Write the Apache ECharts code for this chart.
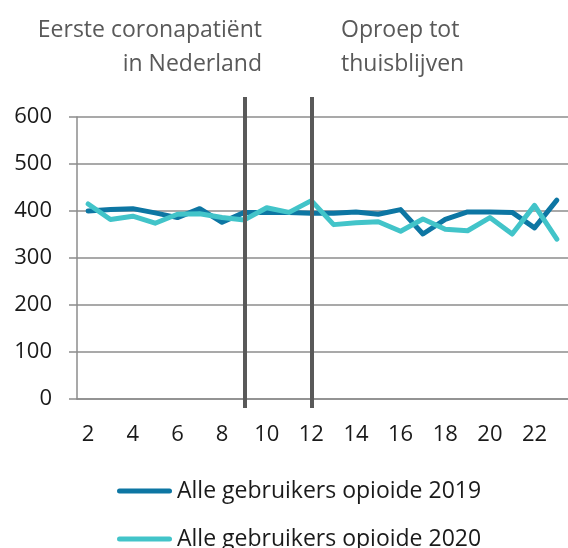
<!DOCTYPE html>
<html>
<head>
<meta charset="utf-8">
<script src="https://cdn.jsdelivr.net/npm/echarts@6/dist/echarts.min.js"></script>
<style>
    html, body { margin: 0; padding: 0; background: #ffffff; }
    #chart { width: 568px; height: 548px; }
</style>
</head>
<body>
<div id="chart"></div>
<script>
    // week numbers
    const weeks = ['2', '3', '4', '5', '6', '7', '8', '9', '10', '11', '12', '13',
        '14', '15', '16', '17', '18', '19', '20', '21', '22', '23'];
    const users2019 = [400, 403, 405, 396, 386, 405, 376, 397, 397, 397, 395, 395,
        398, 393, 403, 351, 382, 398, 398, 397, 364, 423];
    const users2020 = [415, 382, 389, 374, 393, 394, 386, 381, 407, 397, 422, 371,
        375, 377, 357, 383, 361, 358, 386, 351, 412, 340];
    const eventWeeks = ['9', '12'];
    const yTicks = [0, 100, 200, 300, 400, 500, 600];

    const font = '"Open Sans", sans-serif';
    const chart = echarts.init(document.getElementById('chart'));

    const option = {
        animation: false,
        textStyle: { fontFamily: font },
        grid: [
            { left: 77, right: -2, top: 117, bottom: 149 },
            // grid for the event lines, a bit taller than the plot
            { left: 77, right: -2, top: 97, bottom: 140 }
        ],
        legend: {
            orient: 'vertical',
            left: 117,
            top: 476,
            height: 120,
            padding: 0,
            itemWidth: 55,
            itemHeight: 5,
            itemGap: 18,
            icon: 'path://M2.5,0 L52.5,0 A2.5,2.5 0 0 1 52.5,5 L2.5,5 A2.5,2.5 0 0 1 2.5,0 Z',
            data: ['Alle gebruikers opioide 2019', 'Alle gebruikers opioide 2020'],
            textStyle: {
                fontFamily: font,
                fontSize: 23,
                lineHeight: 30,
                color: '#1a1a1a'
            }
        },
        graphic: [
            {
                type: 'text', right: 568 - 262, top: 13,
                style: {
                    text: 'Eerste coronapatiënt\nin Nederland',
                    textAlign: 'right', align: 'right', lineHeight: 34,
                    font: '23px "Open Sans"', fill: '#595959'
                }
            },
            {
                type: 'text', left: 341, top: 13,
                style: {
                    text: 'Oproep tot\nthuisblijven',
                    textAlign: 'left', lineHeight: 34,
                    font: '23px "Open Sans"', fill: '#595959'
                }
            }
        ],
        xAxis: [
            {
                type: 'category',
                data: weeks,
                gridIndex: 0,
                boundaryGap: true,
                axisLine: { lineStyle: { color: '#8c8c8c', width: 1.5 } },
                axisTick: { interval: 0, length: 8, lineStyle: { color: '#8c8c8c', width: 1.5 } },
                axisLabel: {
                    interval: 1,
                    margin: 25,
                    fontSize: 22,
                    color: '#1a1a1a',
                    fontFamily: font
                }
            },
            {
                type: 'category',
                data: weeks,
                gridIndex: 1,
                show: false
            }
        ],
        yAxis: [
            {
                type: 'value',
                gridIndex: 0,
                min: 0,
                max: 600,
                interval: 100,
                axisLine: { show: true, lineStyle: { color: '#8c8c8c', width: 1.5 } },
                axisTick: { show: true, length: 8, lineStyle: { color: '#8c8c8c', width: 1.5 } },
                splitLine: { lineStyle: { color: '#8c8c8c', width: 1.5 } },
                axisLabel: {
                    margin: 25,
                    fontSize: 22,
                    color: '#1a1a1a',
                    fontFamily: font,
                    formatter: v => yTicks.includes(v) ? String(v) : ''
                }
            },
            {
                type: 'value',
                gridIndex: 1,
                min: 0,
                max: 1,
                show: false
            }
        ],
        series: [
            {
                name: 'Alle gebruikers opioide 2019',
                type: 'line',
                data: users2019,
                symbol: 'none',
                color: '#0d76a3',
                lineStyle: { width: 5, color: '#0d76a3', join: 'round', cap: 'round' },
                z: 2
            },
            {
                name: 'Alle gebruikers opioide 2020',
                type: 'line',
                data: users2020,
                symbol: 'none',
                color: '#42c4c9',
                lineStyle: { width: 5, color: '#42c4c9', join: 'round', cap: 'round' },
                z: 3
            },
            {
                name: 'events',
                type: 'line',
                xAxisIndex: 1,
                yAxisIndex: 1,
                data: weeks.map(() => null),
                symbol: 'none',
                silent: true,
                z: 10,
                markLine: {
                    silent: true,
                    symbol: 'none',
                    animation: false,
                    label: { show: false },
                    lineStyle: { type: 'solid', color: '#595959', width: 4 },
                    data: eventWeeks.map(w => ({ xAxis: w }))
                }
            }
        ]
    };

    chart.setOption(option);
</script>
</body>
</html>
